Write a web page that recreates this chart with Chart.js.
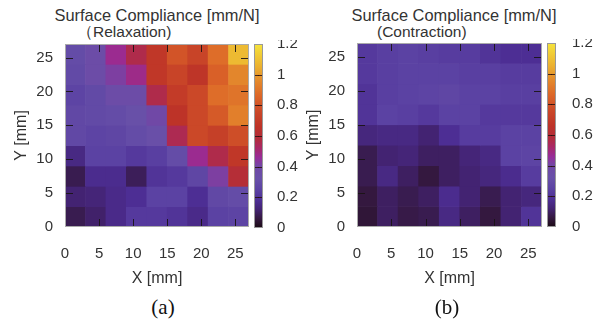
<!DOCTYPE html>
<html>
<head>
<meta charset="utf-8">
<script src="https://cdn.jsdelivr.net/npm/chart.js@4.4.0/dist/chart.umd.min.js"></script>
<style>
  body { margin: 0; background: #fff; }
  #page { position: relative; width: 602px; height: 328px; overflow: hidden; background: #fff;
          font-family: "Liberation Sans", Arial, sans-serif; color: #333; }
  canvas { position: absolute; }
  .title { position: absolute; font-size: 16.4px; line-height: 1; white-space: nowrap; }
  .sub { position: absolute; font-size: 15.5px; line-height: 1; white-space: nowrap; }
  .center { transform: translateX(-50%); }
  .panel { position: absolute; font-family: "Liberation Serif", "Times New Roman", serif;
           font-size: 21px; line-height: 1; color: #111; transform: translateX(-50%); }
</style>
</head>
<body>
<div id="page">
  <div class="title center" style="left:157px; top:7px;">Surface Compliance [mm/N]</div>
  <div class="sub" style="left:77px; top:24px;">（Relaxation)</div>
  <div class="title center" style="left:454px; top:7px;">Surface Compliance [mm/N]</div>
  <div class="sub" style="left:377px; top:24px;">(Contraction)</div>

  <canvas id="mapA" width="252" height="252" style="left:0px; top:40px;"></canvas>
  <canvas id="barA" width="50" height="200" style="left:250px; top:40px;"></canvas>
  <canvas id="mapB" width="253" height="253" style="left:292px; top:39px;"></canvas>
  <canvas id="barB" width="59" height="200" style="left:543px; top:39px;"></canvas>

  <div class="panel" style="left:163px; top:297px;">(a)</div>
  <div class="panel" style="left:447px; top:297px;">(b)</div>
</div>
<script>
// cell centres along X [mm], and bottom edge of each row (rows listed top to bottom)
const xCenters = [1.5, 4.5, 7.5, 10.5, 13.5, 16.5, 19.5, 22.5, 25.5];
const yBottoms = [24, 21, 18, 15, 12, 9, 6, 3, 0];
const cellSize = 3;

const axisTicks = [0, 5, 10, 15, 20, 25];
const barTicks = [0, 0.2, 0.4, 0.6, 0.8, 1.0, 1.2];
const barLabels = ['0', '0.2', '0.4', '0.6', '0.8', '1', '1.2'];

// surface compliance [mm/N], rows from Y=27 down to Y=0
const relaxation = [
    [0.30, 0.36, 0.47, 0.56, 0.68, 0.80, 0.74, 0.88, 1.08],
    [0.29, 0.36, 0.42, 0.48, 0.68, 0.74, 0.67, 0.84, 0.95],
    [0.26, 0.29, 0.36, 0.36, 0.56, 0.70, 0.76, 0.88, 0.90],
    [0.28, 0.29, 0.30, 0.32, 0.40, 0.66, 0.76, 0.82, 0.93],
    [0.28, 0.26, 0.27, 0.30, 0.33, 0.55, 0.76, 0.72, 0.78],
    [0.15, 0.25, 0.25, 0.22, 0.24, 0.30, 0.47, 0.56, 0.68],
    [0.08, 0.17, 0.17, 0.09, 0.20, 0.22, 0.27, 0.42, 0.60],
    [0.12, 0.13, 0.16, 0.18, 0.25, 0.25, 0.18, 0.28, 0.30],
    [0.08, 0.11, 0.16, 0.22, 0.22, 0.20, 0.16, 0.25, 0.26]
];

const contraction = [
    [0.22, 0.24, 0.25, 0.24, 0.23, 0.23, 0.20, 0.18, 0.18],
    [0.22, 0.24, 0.25, 0.25, 0.25, 0.24, 0.24, 0.23, 0.23],
    [0.20, 0.24, 0.25, 0.26, 0.27, 0.25, 0.25, 0.24, 0.24],
    [0.20, 0.25, 0.24, 0.22, 0.25, 0.25, 0.22, 0.22, 0.22],
    [0.14, 0.15, 0.15, 0.12, 0.18, 0.23, 0.23, 0.25, 0.25],
    [0.08, 0.12, 0.13, 0.10, 0.10, 0.13, 0.15, 0.25, 0.26],
    [0.08, 0.15, 0.10, 0.06, 0.10, 0.12, 0.14, 0.17, 0.23],
    [0.06, 0.10, 0.08, 0.10, 0.17, 0.12, 0.08, 0.12, 0.14],
    [0.05, 0.10, 0.07, 0.08, 0.15, 0.10, 0.06, 0.12, 0.20]
];

const palette = [
    [0.00, '#1a0a14'], [0.06, '#34183f'], [0.12, '#432372'], [0.18, '#4d2e94'],
    [0.25, '#5b42a3'], [0.32, '#6850a8'], [0.40, '#7048a6'], [0.46, '#982c98'],
    [0.52, '#a82868'], [0.58, '#b22c3c'], [0.66, '#bd3328'], [0.76, '#cb4828'],
    [0.86, '#dc6628'], [0.96, '#e48a2c'], [1.05, '#ebb030'], [1.20, '#f6e43c']
];

const hexRgb = h => [1, 3, 5].map(i => parseInt(h.substr(i, 2), 16));

const colorAt = (v) => {
    for (let i = 1; i < palette.length; i++) {
        if (v <= palette[i][0]) {
            const [v0, c0] = palette[i - 1];
            const [v1, c1] = palette[i];
            const t = (v - v0) / (v1 - v0);
            const a = hexRgb(c0), b = hexRgb(c1);
            const c = a.map((x, k) => Math.round(x + (b[k] - x) * t));
            return `rgb(${c[0]},${c[1]},${c[2]})`;
        }
    }
    return palette[palette.length - 1][1];
};

const font = {family: '"Liberation Sans", Arial, sans-serif', size: 15};
const titleFont = {family: '"Liberation Sans", Arial, sans-serif', size: 16};
const textColor = '#333';

const noPad = s => { s.paddingLeft = 0; s.paddingRight = 0; s.paddingTop = 0; s.paddingBottom = 0; };

// inward tick marks on all sides plus the light frame
const frame = {
    id: 'frame',
    afterDatasetsDraw(chart, args, opts) {
        const {ctx, chartArea: a, scales} = chart;
        const len = opts.len;
        ctx.save();
        ctx.lineWidth = 1;
        ctx.strokeStyle = opts.tickColor;
        ctx.beginPath();
        if (opts.xTicks) {
            scales.x.ticks.forEach(t => {
                if (t.value === 0) return;
                const px = Math.round(scales.x.getPixelForValue(t.value)) + 0.5;
                ctx.moveTo(px, a.bottom); ctx.lineTo(px, a.bottom - len);
                ctx.moveTo(px, a.top); ctx.lineTo(px, a.top + len);
            });
        }
        scales.y.ticks.forEach(t => {
            if (t.value <= 0 || t.value >= scales.y.max) return;
            const py = Math.round(scales.y.getPixelForValue(t.value)) + 0.5;
            ctx.moveTo(a.left, py); ctx.lineTo(a.left + len, py);
            ctx.moveTo(a.right, py); ctx.lineTo(a.right - len, py);
        });
        ctx.stroke();
        ctx.strokeStyle = opts.borderColor;
        ctx.strokeRect(Math.round(a.left) + 0.5, Math.round(a.top) + 0.5,
            Math.round(a.width) - 1, Math.round(a.height) - 1);
        ctx.restore();
    }
};

const heatmap = (id, rows) => new Chart(document.getElementById(id), {
    type: 'bar',
    data: {
        datasets: rows.map((vals, r) => ({
            data: xCenters.map(x => ({x: x, y: [yBottoms[r], yBottoms[r] + cellSize]})),
            backgroundColor: vals.map(colorAt),
            grouped: false,
            barPercentage: 1,
            categoryPercentage: 1,
            borderWidth: 0
        }))
    },
    options: {
        responsive: false,
        animation: false,
        layout: {padding: {top: 4, right: 3, left: 0, bottom: 0}},
        plugins: {
            legend: {display: false},
            tooltip: {enabled: false},
            frame: {len: 8, xTicks: true, tickColor: 'rgba(25,20,20,0.9)', borderColor: '#aaaaaa'}
        },
        scales: {
            x: {
                type: 'linear', min: 0, max: 27, offset: false,
                afterBuildTicks: s => { s.ticks = axisTicks.map(v => ({value: v})); },
                afterFit: s => { s.height = 65; noPad(s); },
                grid: {display: false, drawTicks: false},
                border: {display: false},
                ticks: {padding: 18, font: font, color: textColor, maxRotation: 0},
                title: {display: true, text: 'X [mm]', font: titleFont, color: textColor, padding: {top: 0, bottom: 4}}
            },
            y: {
                type: 'linear', min: 0, max: 27,
                afterBuildTicks: s => { s.ticks = axisTicks.map(v => ({value: v})); },
                afterFit: s => { s.width = 65; noPad(s); },
                grid: {display: false, drawTicks: false},
                border: {display: false},
                ticks: {padding: 12, font: font, color: textColor},
                title: {display: true, text: 'Y [mm]', font: titleFont, color: textColor, padding: {top: 12, bottom: 0}}
            }
        }
    },
    plugins: [frame]
});

const colorbar = (id, axisWidth, labelGap) => new Chart(document.getElementById(id), {
    type: 'bar',
    data: {
        labels: [''],
        datasets: [{
            data: [[barTicks[0], barTicks[barTicks.length - 1]]],
            backgroundColor: (c) => {
                const area = c.chart.chartArea;
                if (!area || !isFinite(area.top) || area.bottom <= area.top) return palette[4][1];
                const g = c.chart.ctx.createLinearGradient(0, area.bottom, 0, area.top);
                palette.forEach(p => g.addColorStop(p[0] / 1.2, p[1]));
                return g;
            },
            barPercentage: 1,
            categoryPercentage: 1,
            borderWidth: 0
        }]
    },
    options: {
        responsive: false,
        animation: false,
        layout: {padding: {top: 4, left: 4, right: 0, bottom: 12}},
        plugins: {
            legend: {display: false},
            tooltip: {enabled: false},
            frame: {len: 5, xTicks: false, tickColor: 'rgba(40,15,15,0.85)', borderColor: '#999999'}
        },
        scales: {
            x: {display: false},
            y: {
                position: 'right', min: 0, max: 1.2,
                afterBuildTicks: s => { s.ticks = barTicks.map(v => ({value: v})); },
                afterFit: s => { s.width = axisWidth; noPad(s); },
                grid: {display: false, drawTicks: false},
                border: {display: false},
                ticks: {
                    padding: labelGap, font: font, color: textColor,
                    callback: (v, i) => barLabels[i]
                }
            }
        }
    },
    plugins: [frame]
});

heatmap('mapA', relaxation);
colorbar('barA', 37, 14);
heatmap('mapB', contraction);
colorbar('barB', 46, 16);
</script>
</body>
</html>
